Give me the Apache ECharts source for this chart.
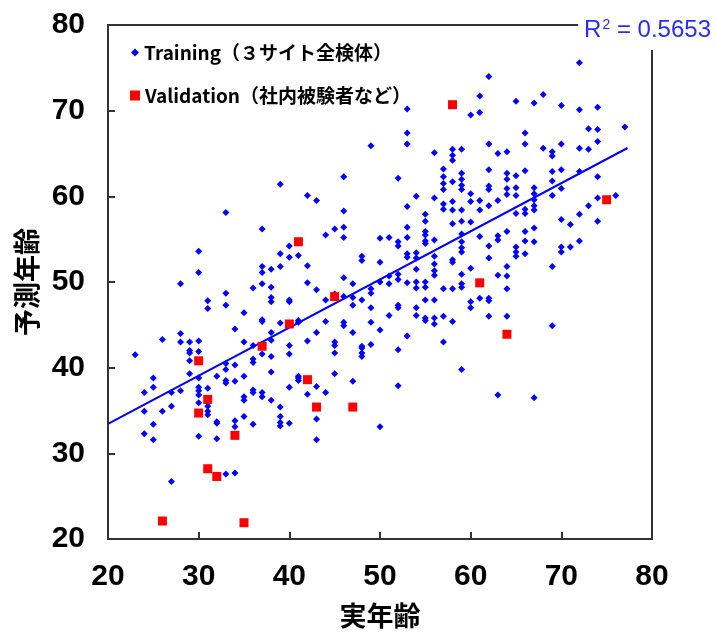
<!DOCTYPE html>
<html>
<head>
<meta charset="utf-8">
<script src="https://cdn.jsdelivr.net/npm/echarts@6/dist/echarts.min.js"></script>
<style>
  html, body { margin: 0; padding: 0; background: #fff; }
  #main { width: 715px; height: 634px; }
</style>
</head>
<body>
<div id="main"></div>
<script>
// training: actual ages and the predicted ages seen in each age column
const trainAges = [23, 24, 25, 26, 27, 28, 29, 30, 31, 32, 33, 34, 35, 36, 37, 38, 39, 40,
  41, 42, 43, 44, 45, 46, 47, 48, 49, 50, 51, 52, 53, 54, 55, 56, 57, 58, 59, 60,
  61, 62, 63, 64, 65, 66, 67, 68, 69, 70, 71, 72, 73, 74, 76, 77]
const trainPreds = [
  [41.5],
  [37.1, 34.9, 32.3],
  [38.8, 37.7, 33.4, 31.6],
  [43.3, 34.9],
  [37.1, 35.5, 26.7],
  [49.8, 44.0, 43.0, 37.3],
  [43.0, 42.0, 41.7, 40.8, 39.3],
  [53.6, 51.1, 43.1, 41.9, 38.8, 37.7, 37.3, 36.8, 35.9, 32.0],
  [47.8, 46.9, 37.6, 35.5, 34.9, 34.5, 35.9],
  [39.0, 33.7, 33.5, 31.7],
  [58.1, 48.7, 47.3, 40.5, 39.8, 38.5, 38.2, 27.6],
  [44.5, 40.3, 38.4, 33.8, 33.1, 27.7],
  [46.4, 43.0, 39.0, 36.6, 36.2, 34.3],
  [49.3, 42.6, 41.0, 40.6, 37.4, 37.1, 33.4],
  [56.2, 51.8, 51.1, 49.8, 45.6, 45.4, 42.7, 41.6, 37.1, 36.6],
  [51.5, 49.4, 48.2, 47.7, 44.1, 43.2, 41.3, 39.5, 36.2],
  [61.4, 53.3, 51.8, 45.2, 35.4, 34.3, 33.6, 33.2],
  [54.2, 52.9, 47.9, 47.7, 42.6, 41.6, 37.7, 33.5],
  [53.1, 45.5, 45.3, 39.0, 38.8, 38.5],
  [60.1, 51.9, 49.9, 43.1, 36.9],
  [59.5, 49.1, 44.1, 37.8, 34.0, 31.6],
  [55.5, 47.9, 45.4, 37.1],
  [56.2, 48.6, 48.2, 43.0, 42.6, 41.7, 39.3],
  [62.3, 58.3, 56.4, 55.2, 50.5, 48.3, 45.3, 44.9],
  [49.8, 48.2, 47.3, 44.1, 38.4],
  [53.0, 52.5, 47.9, 42.5, 42.3, 41.7, 41.3],
  [65.9, 49.2, 48.7, 47.0, 45.3, 42.7],
  [55.1, 52.3, 50.0, 44.4, 33.1],
  [55.2, 50.7, 49.8, 46.1],
  [62.1, 54.7, 54.2, 50.9, 50.3, 47.3, 47.0, 42.1, 37.9],
  [70.2, 67.4, 66.1, 58.8, 56.4, 55.2, 53.3, 52.9, 49.9, 43.7],
  [60.0, 53.4, 52.8, 51.5, 50.0, 49.3, 47.0, 46.1],
  [57.9, 57.1, 55.9, 55.5, 54.8, 54.5, 50.0, 49.4, 47.9, 45.8, 45.5],
  [65.1, 59.8, 54.9, 53.0, 52.1, 51.3, 50.8, 47.9, 45.8, 45.1],
  [63.2, 62.3, 61.5, 60.8, 59.1, 58.5, 49.2, 46.0, 43.0],
  [65.5, 64.8, 64.2, 61.7, 59.4, 58.4, 56.8, 52.6, 52.3, 49.2, 45.4],
  [65.5, 62.7, 62.0, 61.3, 60.8, 58.4, 57.1, 55.6, 54.7, 54.0, 53.5, 50.9, 49.8, 49.4, 39.8],
  [69.5, 60.3, 59.4, 57.0, 51.6, 47.7, 47.0],
  [71.7, 69.8, 59.5, 58.4, 55.3, 48.1],
  [74.0, 66.1, 63.1, 61.2, 60.8, 58.9, 54.2, 52.8, 48.1, 47.8, 46.0],
  [65.0, 59.5, 55.4, 54.9, 50.8, 36.8],
  [65.2, 62.7, 62.0, 60.9, 60.2, 55.9, 51.8, 50.7, 49.2, 46.0],
  [71.1, 62.4, 61.0, 60.1, 58.0, 54.1, 53.5, 53.0],
  [67.4, 66.1, 63.0, 58.5, 58.0, 55.9, 54.8, 53.3],
  [70.9, 61.0, 60.3, 59.6, 58.9, 58.4, 56.3, 54.7, 36.5],
  [71.9, 65.6],
  [65.2, 64.7, 62.9, 61.8, 60.1, 51.8, 44.9],
  [70.6, 66.1, 63.1, 60.9, 57.3, 54.1, 53.5],
  [56.7, 54.1],
  [75.6, 70.1, 65.6, 62.9, 57.9, 54.8],
  [67.9, 65.5, 58.9],
  [70.4, 67.8, 66.4, 62.3, 59.8, 57.1],
  [60.1],
  [68.1]
]

// validation (in-house subjects)
const validAges = [26, 30, 30, 31, 31, 32, 34, 35, 37, 40, 41, 42, 43, 45, 47, 58, 61, 64, 75]
const validPreds = [22.1, 40.8, 34.7, 36.3, 28.2, 27.3, 32.1, 21.9, 42.5, 45.1, 54.7, 38.6, 35.4, 48.3, 35.4, 70.7, 49.9, 43.9, 59.6]

// trend line of the training set
const fitSlope = 0.562
const fitIntercept = 22.2
const fitRange = [20, 77.3]
const r2Text = '0.5653'

const axisTicks = [20, 30, 40, 50, 60, 70, 80]

const trainData = []
trainAges.forEach((age, i) => {
  trainPreds[i].forEach(p => trainData.push([age, p]))
})
const validData = validAges.map((a, i) => [a, validPreds[i]])
const fitData = fitRange.map(x => [x, fitIntercept + fitSlope * x])

const chart = echarts.init(document.getElementById('main'))
const labelFont = {
  fontFamily: 'Liberation Sans',
  fontWeight: 'bold',
  fontSize: 30,
  color: '#000'
}
const legendText = {
  fontFamily: 'Noto Sans CJK JP',
  fontWeight: 'bold',
  fontSize: 19,
  color: '#000'
}
const nameFont = { fontFamily: 'Noto Sans CJK JP', fontWeight: 'bold', fontSize: 27, color: '#000' }

chart.setOption({
  animation: false,
  backgroundColor: '#fff',
  grid: {
    left: 108,
    top: 25,
    width: 544,
    height: 517,
    show: true,
    borderColor: '#333',
    borderWidth: 2,
    backgroundColor: 'transparent'
  },
  legend: [{
    data: [{ name: 'Training（３サイト全検体）', icon: 'diamond' }],
    left: 126,
    top: 38,
    itemWidth: 8,
    itemHeight: 8,
    textStyle: legendText
  }, {
    data: [{ name: 'Validation（社内被験者など）', icon: 'rect' }],
    left: 125,
    top: 81,
    itemWidth: 10,
    itemHeight: 10,
    textStyle: legendText
  }],
  xAxis: {
    type: 'value',
    min: axisTicks[0],
    max: axisTicks[axisTicks.length - 1],
    interval: 10,
    name: '実年齢',
    nameLocation: 'middle',
    nameGap: 63,
    nameTextStyle: nameFont,
    axisLine: { show: true, lineStyle: { color: '#333', width: 2 } },
    axisTick: { show: true, inside: true, length: 7, lineStyle: { color: '#333', width: 2 } },
    axisLabel: Object.assign({ margin: 23 }, labelFont),
    splitLine: { show: false }
  },
  yAxis: {
    type: 'value',
    min: axisTicks[0],
    max: axisTicks[axisTicks.length - 1],
    interval: 10,
    name: '予測年齢',
    nameLocation: 'middle',
    nameGap: 64,
    nameRotate: 90,
    nameTextStyle: nameFont,
    axisLine: { show: true, lineStyle: { color: '#333', width: 2 } },
    axisTick: { show: true, inside: true, length: 7, lineStyle: { color: '#333', width: 2 } },
    axisLabel: Object.assign({ margin: 23 }, labelFont),
    splitLine: { show: false }
  },
  graphic: [{
    type: 'text',
    right: 2,
    top: 12,
    z: 100,
    style: {
      text: '{r|R}{s|2}{r| = ' + r2Text + '}',
      backgroundColor: '#fff',
      padding: [6, 2, 8, 6],
      rich: {
        r: { fontFamily: 'Liberation Sans', fontSize: 24, fill: '#2a2aff', color: '#2a2aff' },
        s: { fontFamily: 'Liberation Sans', fontSize: 14, fill: '#2a2aff', color: '#2a2aff', verticalAlign: 'top', padding: [0, 0, 10, 1] }
      }
    }
  }],
  series: [{
    name: 'Training（３サイト全検体）',
    type: 'scatter',
    symbol: 'diamond',
    symbolSize: 7,
    itemStyle: { color: '#0000ff', opacity: 1 },
    data: trainData,
    z: 2
  }, {
    name: 'fit',
    type: 'line',
    showSymbol: false,
    silent: true,
    lineStyle: { color: '#0000ff', width: 2 },
    data: fitData,
    z: 3
  }, {
    name: 'Validation（社内被験者など）',
    type: 'scatter',
    symbol: 'rect',
    symbolSize: 9,
    itemStyle: { color: '#ff0000', opacity: 1 },
    data: validData,
    z: 4
  }]
})
</script>
</body>
</html>
